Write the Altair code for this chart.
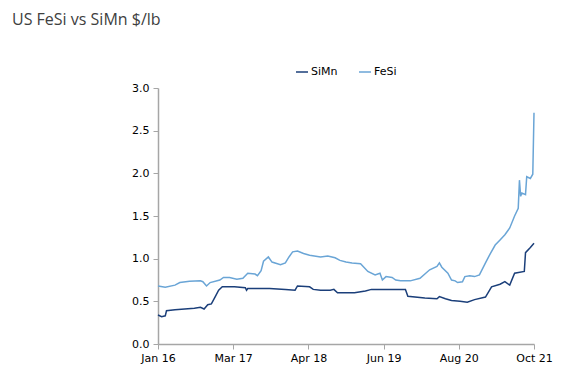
import altair as alt
import pandas as pd

# x positions are in weeks from Jan 2016 (Oct 2021 ~ week 310)
tick_weeks = [0, 62, 124, 186, 248, 310]
tick_labels = ["Jan 16", "Mar 17", "Apr 18", "Jun 19", "Aug 20", "Oct 21"]

simn_week = [0, 3, 6, 7, 14, 22, 30, 35, 38, 41, 44, 47, 50, 53, 63, 72, 73, 74, 92,
             105, 113, 115, 125, 128, 134, 142, 145, 148, 162, 171, 176, 204, 206,
             220, 230, 232, 237, 242, 249, 255, 261, 270, 275, 282, 286, 290, 294,
             302, 303, 307, 310]
simn_val = [0.34, 0.32, 0.33, 0.39, 0.40, 0.41, 0.42, 0.43, 0.41, 0.46, 0.47, 0.55,
            0.63, 0.67, 0.67, 0.66, 0.63, 0.65, 0.65, 0.64, 0.63, 0.68, 0.67, 0.64,
            0.63, 0.63, 0.64, 0.60, 0.60, 0.62, 0.64, 0.64, 0.56, 0.54, 0.53, 0.555,
            0.53, 0.51, 0.50, 0.49, 0.52, 0.55, 0.67, 0.70, 0.73, 0.69, 0.83, 0.85,
            1.07, 1.13, 1.18]

fesi_week = [0, 6, 14, 18, 26, 35, 37, 40, 43, 51, 54, 59, 65, 70, 74, 80, 82, 85,
             87, 91, 94, 101, 105, 108, 111, 115, 120, 125, 134, 140, 146, 150, 155,
             160, 167, 173, 179, 183, 185, 188, 193, 196, 200, 208, 216, 224, 230,
             232, 234, 239, 242, 245, 247, 251, 253, 257, 261, 265, 270, 274, 278,
             282, 286, 290, 294, 297, 298, 299, 300, 303, 304, 307, 309, 310]
fesi_val = [0.68, 0.665, 0.69, 0.72, 0.735, 0.74, 0.73, 0.68, 0.72, 0.75, 0.78, 0.78,
            0.76, 0.77, 0.83, 0.82, 0.80, 0.86, 0.97, 1.02, 0.96, 0.93, 0.95, 1.02,
            1.08, 1.09, 1.06, 1.04, 1.02, 1.03, 1.01, 0.98, 0.96, 0.95, 0.94, 0.85,
            0.81, 0.83, 0.75, 0.79, 0.78, 0.75, 0.74, 0.74, 0.77, 0.87, 0.91, 0.95,
            0.90, 0.83, 0.75, 0.74, 0.72, 0.73, 0.79, 0.80, 0.79, 0.81, 0.95, 1.06,
            1.16, 1.22, 1.28, 1.36, 1.50, 1.59, 1.92, 1.73, 1.77, 1.75, 1.96, 1.94,
            1.99, 2.71]

series_names = ["SiMn", "FeSi"]
series_colors = ["#1B3F7A", "#6AA5D6"]

df = pd.concat([
    pd.DataFrame({"week": simn_week, "value": simn_val, "series": "SiMn"}),
    pd.DataFrame({"week": fesi_week, "value": fesi_val, "series": "FeSi"}),
])

label_expr = " : ".join(
    f"datum.value == {w} ? '{l}'" for w, l in zip(tick_weeks, tick_labels)
) + " : ''"

font = "DejaVu Sans"

chart = alt.Chart(df).mark_line(strokeWidth=1.5, interpolate="linear").encode(
    x=alt.X("week:Q",
            scale=alt.Scale(domain=[0, 310], nice=False, zero=False),
            axis=alt.Axis(values=tick_weeks, labelExpr=label_expr, title=None,
                          grid=False, domainColor="#A6A6A6", tickColor="#A6A6A6",
                          tickSize=5, labelFont=font, labelFontSize=11,
                          labelColor="#000000", labelPadding=3, domainWidth=1.5,
                          labelFlush=False)),
    y=alt.Y("value:Q",
            scale=alt.Scale(domain=[0, 3], nice=False),
            axis=alt.Axis(values=[0, 0.5, 1.0, 1.5, 2.0, 2.5, 3.0], format=".1f",
                          title=None, grid=False, domainColor="#A6A6A6",
                          tickColor="#A6A6A6", tickSize=5, labelFont=font,
                          labelFontSize=11, labelColor="#000000", labelPadding=4,
                          domainWidth=1.5)),
    color=alt.Color("series:N",
                    scale=alt.Scale(domain=series_names, range=series_colors),
                    legend=alt.Legend(title=None, orient="none", direction="horizontal",
                                      legendX=137, legendY=-23, symbolType="stroke",
                                      symbolSize=144, symbolStrokeWidth=1.5,
                                      labelFont=font, labelFontSize=11,
                                      labelColor="#000000", columnPadding=18,
                                      labelOffset=2)),
    detail="series:N",
).properties(
    width=376,
    height=256,
    title=alt.TitleParams("US FeSi vs SiMn $/lb", anchor="start", frame="group",
                          font="Open Sans", fontSize=16, fontWeight="normal",
                          color="#404040", dx=-146, dy=-33),
    autosize=alt.AutoSizeParams(type="none"),
    padding={"left": 150, "top": 80, "right": 25, "bottom": 20},
).configure_view(stroke=None)

chart.save("out.html", embed_options={"renderer": "svg", "actions": False})
